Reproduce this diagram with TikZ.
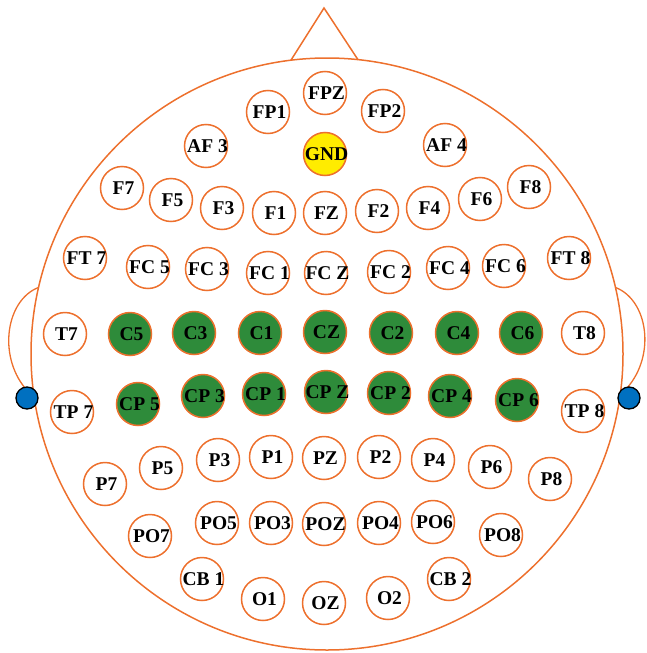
\documentclass[tikz,border=0pt]{standalone}
\usepackage{fontspec}
\setmainfont{Liberation Serif}
\usetikzlibrary{positioning}

\definecolor{capline}{RGB}{237,112,45}
\definecolor{capgreen}{RGB}{46,139,58}
\definecolor{gndyellow}{RGB}{255,236,0}
\definecolor{refblue}{RGB}{0,112,192}
\newcommand{\lbl}[1]{\makebox[0pt]{\hspace{3pt}#1}}

\begin{document}
\begin{tikzpicture}[x=1pt, y=-1pt, line width=1.5pt,
    elec/.style={circle, draw=capline, fill=white, minimum size=43pt, inner sep=0pt, outer sep=0pt, font=\fontsize{19.5}{19.5}\selectfont\bfseries},
    active/.style={elec, fill=capgreen},
    gnd/.style={elec, fill=gndyellow},
    refdot/.style={circle, draw=black, fill=refblue, line width=1.3pt, minimum size=22pt, inner sep=0pt}]
    \useasboundingbox (0,0) rectangle (646,653);

    % head, nose and ears
    \node (head) [circle, draw=capline, minimum size=592pt, inner sep=0pt, outer sep=0pt] at (327,354) {};
    \coordinate (nosetip) at (324,8);
    \draw[capline] (head.97) -- (nosetip) -- (head.84);
    \coordinate (learend) at (25,388);
    \coordinate (rearend) at (627,388);
    \draw[capline, line width=1.3pt] (head.167) .. controls (6,300) and (-2,355) .. (learend);
    \draw[capline, line width=1.3pt] (head.13) .. controls (648,300) and (656,355) .. (rearend);
    \node (lref) [refdot] at (27,398) {};
    \node (rref) [refdot] at (629,398) {};

    % frontal
    \node (fp1) [elec] at (268,112) {\lbl{FP1}};
    \node (fpz) [elec] at (325,93) {\lbl{FPZ}};
    \node (fp2) [elec] at (383,111) {\lbl{FP2}};
    \node (af3) [elec] at (206,146) {\lbl{AF 3}};
    \node (gnd) [gnd] at (325,154) {\lbl{GND}};
    \node (af4) [elec] at (445,145) {\lbl{AF 4}};
    \node (f7) [elec] at (122,188) {\lbl{F7}};
    \node (f5) [elec] at (171,200) {\lbl{F5}};
    \node (f3) [elec] at (222,208) {\lbl{F3}};
    \node (f1) [elec] at (274,213) {\lbl{F1}};
    \node (fz) [elec] at (325,213) {\lbl{FZ}};
    \node (f2) [elec] at (377,211) {\lbl{F2}};
    \node (f4) [elec] at (428,208) {\lbl{F4}};
    \node (f6) [elec] at (480,199) {\lbl{F6}};
    \node (f8) [elec] at (529,187) {\lbl{F8}};

    % fronto-central
    \node (ft7) [elec] at (85,258) {\lbl{FT 7}};
    \node (fc5) [elec] at (148,267) {\lbl{FC 5}};
    \node (fc3) [elec] at (207,269) {\lbl{FC 3}};
    \node (fc1) [elec] at (268,273) {\lbl{FC 1}};
    \node (fcz) [elec] at (326,273) {\lbl{FC Z}};
    \node (fc2) [elec] at (389,272) {\lbl{FC 2}};
    \node (fc4) [elec] at (448,268) {\lbl{FC 4}};
    \node (fc6) [elec] at (504,266) {\lbl{FC 6}};
    \node (ft8) [elec] at (569,258) {\lbl{FT 8}};

    % central
    \node (t7) [elec] at (65,334) {\lbl{T7}};
    \node (c5) [active] at (130,334) {\lbl{C5}};
    \node (c3) [active] at (194,333) {\lbl{C3}};
    \node (c1) [active] at (260,333) {\lbl{C1}};
    \node (cz) [active] at (325,332) {\lbl{CZ}};
    \node (c2) [active] at (391,333) {\lbl{C2}};
    \node (c4) [active] at (457,333) {\lbl{C4}};
    \node (c6) [active] at (521,333) {\lbl{C6}};
    \node (t8) [elec] at (583,333) {\lbl{T8}};

    % centro-parietal
    \node (tp7) [elec] at (72,412) {\lbl{TP 7}};
    \node (cp5) [active] at (138,404) {\lbl{CP 5}};
    \node (cp3) [active] at (203,396) {\lbl{CP 3}};
    \node (cp1) [active] at (264,394) {\lbl{CP 1}};
    \node (cpz) [active] at (326,392) {\lbl{CP Z}};
    \node (cp2) [active] at (389,393) {\lbl{CP 2}};
    \node (cp4) [active] at (450,396) {\lbl{CP 4}};
    \node (cp6) [active] at (517,400) {\lbl{CP 6}};
    \node (tp8) [elec] at (583,411) {\lbl{TP 8}};

    % parietal
    \node (p7) [elec] at (105,484) {\lbl{P7}};
    \node (p5) [elec] at (161,468) {\lbl{P5}};
    \node (p3) [elec] at (218,460) {\lbl{P3}};
    \node (p1) [elec] at (271,457) {\lbl{P1}};
    \node (pz) [elec] at (324,458) {\lbl{PZ}};
    \node (p2) [elec] at (379,457) {\lbl{P2}};
    \node (p4) [elec] at (433,460) {\lbl{P4}};
    \node (p6) [elec] at (490,467) {\lbl{P6}};
    \node (p8) [elec] at (550,479) {\lbl{P8}};

    % parieto-occipital
    \node (po7) [elec] at (150,536) {\lbl{PO7}};
    \node (po5) [elec] at (217,523) {\lbl{PO5}};
    \node (po3) [elec] at (271,523) {\lbl{PO3}};
    \node (poz) [elec] at (324,524) {\lbl{POZ}};
    \node (po4) [elec] at (379,523) {\lbl{PO4}};
    \node (po6) [elec] at (433,522) {\lbl{PO6}};
    \node (po8) [elec] at (501,535) {\lbl{PO8}};

    % occipital
    \node (cb1) [elec] at (202,579) {\lbl{CB 1}};
    \node (o1) [elec] at (263,599) {\lbl{O1}};
    \node (oz) [elec] at (324,603) {\lbl{OZ}};
    \node (o2) [elec] at (388,598) {\lbl{O2}};
    \node (cb2) [elec] at (449,579) {\lbl{CB 2}};
\end{tikzpicture}
\end{document}
